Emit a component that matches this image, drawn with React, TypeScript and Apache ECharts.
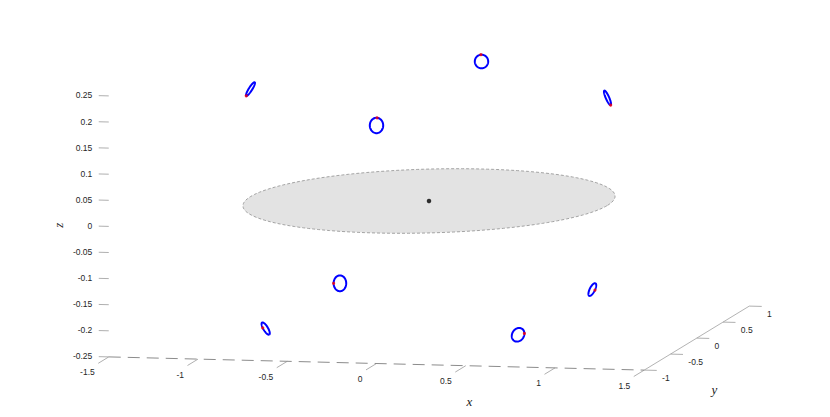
import React, { useEffect, useRef } from "react";
import * as echarts from "echarts";

// ---- axis limits and ticks ----
const xLim = [-1.5, 1.5];
const yLim = [-1, 1];
const zLim = [-0.25, 0.25];
const xTicks = [-1.5, -1, -0.5, 0, 0.5, 1, 1.5];
const xTickLabels = ["-1.5", "-1", "-0.5", "0", "0.5", "1", "1.5"];
const yTicks = [-1, -0.5, 0, 0.5, 1];
const yTickLabels = ["-1", "-0.5", "0", "0.5", "1"];
const zTicks = [-0.25, -0.2, -0.15, -0.1, -0.05, 0, 0.05, 0.1, 0.15, 0.2, 0.25];
const zTickLabels = ["-0.25", "-0.2", "-0.15", "-0.1", "-0.05", "0", "0.05", "0.1", "0.15", "0.2", "0.25"];

// ---- disc ----
const discCenter = [0, 0, 0];
const discRadius = 1;

// ---- rings (center, two semi-axis vectors in data units) ----
const ringCenters = [
  [-1, 0, 0.206],
  [0, -1, 0.206],
  [0, 1, 0.206],
  [1, 0, 0.206],
  [-0.707, 0.707, -0.207],
  [-0.707, -0.707, -0.207],
  [0.707, -0.707, -0.207],
  [0.707, 0.707, -0.207],
];
const ringU = [
  [0.0238, 0, 0.01319],
  [0.0375, 0, 0.0003],
  [0.0375, 0, 0.0003],
  [0.01776, 0, -0.01372],
  [0.0353, 0, 0.0003],
  [0.0201, 0, -0.01134],
  [0.0353, 0, 0.00164],
  [0.01753, 0, 0.01214],
];
const ringV = [
  [0.00807, 0, -0.00166],
  [0, 0, 0.01475],
  [0, 0, 0.013],
  [0.00874, 0, 0.00138],
  [0, 0, 0.0151],
  [-0.0111, 0, -0.00235],
  [0.0028, 0, 0.01305],
  [0.013, 0, -0.00211],
];
const markerPhaseDeg = [180, 85, 95, 0, 180, 107, 5, 84];

// ---- view projection (orthographic, screen px per data unit) ----
const ORIGIN = [429, 201];
const EX = [178.5, 4.4];
const EY = [52.5, -32];
const EZ = [0, -522];

function project(p: number[]): number[] {
  return [
    ORIGIN[0] + p[0] * EX[0] + p[1] * EY[0] + p[2] * EZ[0],
    ORIGIN[1] + p[0] * EX[1] + p[1] * EY[1] + p[2] * EZ[1],
  ];
}

function ringPoint(i: number, t: number): number[] {
  const c = ringCenters[i], u = ringU[i], v = ringV[i];
  return [0, 1, 2].map((k) => c[k] + Math.cos(t) * u[k] + Math.sin(t) * v[k]);
}

const TICK_COLOR = "#9a9a9a";
const TEXT_COLOR = "#262626";
const FONT = "'Liberation Sans', Arial, Helvetica, sans-serif";
const SERIF = "'Liberation Serif', 'Times New Roman', serif";

export default function App() {
  const ref = useRef<HTMLDivElement>(null);
  useEffect(() => {
    if (!ref.current) return;
    const chart = echarts.init(ref.current, undefined, { renderer: "svg" });

    const [xmin, xmax] = xLim;
    const [ymin, ymax] = yLim;
    const [zmin] = zLim;

    // tick segments
    const tickSegs: number[][] = [];
    xTicks.forEach((x) => {
      const a = project([x, ymin, zmin]);
      const b = project([x, ymin - 0.2, zmin]);
      tickSegs.push([a[0], a[1], b[0], b[1]]);
    });
    yTicks.forEach((y) => {
      const a = project([xmax, y, zmin]);
      const b = project([xmax + 0.07, y, zmin]);
      tickSegs.push([a[0], a[1], b[0], b[1]]);
    });
    zTicks.forEach((z) => {
      const a = project([xmin, ymin, z]);
      const b = project([xmin - 0.056, ymin, z]);
      tickSegs.push([a[0], a[1], b[0], b[1]]);
    });

    // labels
    type Lbl = { p: number[]; text: string; align: string; rot?: number; title?: boolean };
    const labels: Lbl[] = [];
    xTicks.forEach((x, i) =>
      labels.push({ p: project([x, ymin - 0.267, zmin - 0.0134]), text: xTickLabels[i], align: "right" })
    );
    yTicks.forEach((y, i) =>
      labels.push({ p: project([xmax + 0.1, y, zmin - 0.0135]), text: yTickLabels[i], align: "left" })
    );
    zTicks.forEach((z, i) =>
      labels.push({ p: project([xmin - 0.092, ymin, z]), text: zTickLabels[i], align: "right" })
    );
    labels.push({ p: project([0.52, ymin, -0.318]), text: "x", align: "center", title: true });
    labels.push({ p: project([xmax, 0.338, -0.369]), text: "y", align: "center", title: true });
    labels.push({ p: project([xmin - 0.28, ymin, 0]), text: "z", align: "center", rot: Math.PI / 2, title: true });

    const markers = ringCenters.map((_, i) => project(ringPoint(i, (markerPhaseDeg[i] * Math.PI) / 180)));

    chart.setOption({
      animation: false,
      grid: { left: 0, right: 0, top: 0, bottom: 0 },
      xAxis: { type: "value", min: 0, max: 830, show: false },
      yAxis: { type: "value", min: 0, max: 417, inverse: true, show: false },
      series: [
        {
          type: "line",
          name: "xaxis",
          data: [project([xmin, ymin, zmin]), project([xmax, ymin, zmin])],
          symbol: "none",
          lineStyle: { color: "#8c8c8c", width: 1, type: [12, 7] },
          silent: true,
          z: 1,
        },
        {
          type: "line",
          name: "yaxis",
          data: [project([xmax, ymin, zmin]), project([xmax, ymax, zmin])],
          symbol: "none",
          lineStyle: { color: "#a0a0a0", width: 0.8 },
          silent: true,
          z: 1,
        },
        {
          type: "custom",
          name: "ticks",
          data: tickSegs.map((s, i) => [i, 0]),
          clip: false,
          silent: true,
          z: 1,
          renderItem: (params: any, api: any) => {
            const s = tickSegs[api.value(0)];
            const a = api.coord([s[0], s[1]]);
            const b = api.coord([s[2], s[3]]);
            return {
              type: "line",
              shape: { x1: a[0], y1: a[1], x2: b[0], y2: b[1] },
              style: { stroke: TICK_COLOR, lineWidth: 0.8 },
            };
          },
        },
        {
          type: "custom",
          name: "labels",
          data: labels.map((l, i) => [i, 0]),
          clip: false,
          silent: true,
          z: 2,
          renderItem: (params: any, api: any) => {
            const l = labels[api.value(0)];
            const p = api.coord(l.p);
            return {
              type: "text",
              x: p[0],
              y: p[1],
              rotation: l.rot || 0,
              style: {
                text: l.text,
                fill: l.title ? "#222" : TEXT_COLOR,
                fontSize: l.title ? 13 : 8.5,
                fontFamily: l.title ? SERIF : FONT,
                fontStyle: l.title ? "italic" : "normal",
                align: l.align,
                verticalAlign: "middle",
              },
            };
          },
        },
        {
          type: "custom",
          name: "disc",
          data: [[0, 0]],
          clip: false,
          silent: true,
          z: 3,
          renderItem: (params: any, api: any) => {
            const pts: number[][] = [];
            for (let k = 0; k < 180; k++) {
              const t = (k / 180) * Math.PI * 2;
              pts.push(
                api.coord(
                  project([
                    discCenter[0] + discRadius * Math.cos(t),
                    discCenter[1] + discRadius * Math.sin(t),
                    discCenter[2],
                  ])
                )
              );
            }
            return {
              type: "polygon",
              shape: { points: pts },
              style: { fill: "#e3e3e3", stroke: "#8f8f8f", lineWidth: 0.8, lineDash: [3, 2] },
            };
          },
        },
        {
          type: "custom",
          name: "rings",
          data: ringCenters.map((_, i) => [i, 0]),
          clip: false,
          silent: true,
          z: 4,
          renderItem: (params: any, api: any) => {
            const i = api.value(0);
            const pts: number[][] = [];
            for (let k = 0; k <= 72; k++) {
              const t = (k / 72) * Math.PI * 2;
              pts.push(api.coord(project(ringPoint(i, t))));
            }
            return {
              type: "polyline",
              shape: { points: pts },
              style: { stroke: "#0000ff", lineWidth: 2, fill: null },
            };
          },
        },
        {
          type: "scatter",
          name: "markers",
          data: markers,
          symbol: "circle",
          symbolSize: 3.2,
          itemStyle: { color: "#ff0000" },
          silent: true,
          z: 5,
        },
        {
          type: "scatter",
          name: "center",
          data: [project(discCenter)],
          symbol: "circle",
          symbolSize: 4.5,
          itemStyle: { color: "#000000" },
          silent: true,
          z: 5,
        },
      ],
    });
    return () => chart.dispose();
  }, []);
  return (
    <div
      ref={ref}
      style={{ position: "absolute", left: 0, top: 0, width: 830, height: 417, background: "#ffffff" }}
    />
  );
}
